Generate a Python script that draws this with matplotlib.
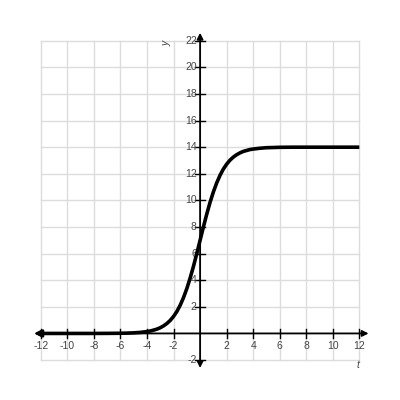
import matplotlib.pyplot as plt

plt.rcParams['font.family'] = ['Liberation Sans', 'DejaVu Sans']

# values
t_vals = [-12, -10, -8, -7, -6, -5.5, -5, -4.5, -4, -3.75, -3.5, -3.25, -3, -2.75,
          -2.5, -2.25, -2, -1.75, -1.5, -1.25, -1, -0.75, -0.5, -0.25, 0, 0.25, 0.5,
          0.75, 1, 1.25, 1.5, 1.75, 2, 2.25, 2.5, 2.75, 3, 3.25, 3.5, 3.75, 4, 4.5,
          5, 6, 7, 8, 10, 12]
y_vals = [0.0, 0.0, 0.0, 0.005, 0.014, 0.025, 0.044, 0.079, 0.14, 0.185, 0.25, 0.325,
          0.43, 0.57, 0.75, 0.98, 1.28, 1.65, 2.12, 2.69, 3.37, 4.16, 5.04, 6.0, 7.0,
          8.0, 8.96, 9.85, 10.63, 11.31, 11.88, 12.35, 12.72, 13.02, 13.25, 13.43,
          13.57, 13.68, 13.75, 13.82, 13.86, 13.92, 13.96, 13.99, 14.0, 14.0, 14.0, 14.0]

x_ticks = [-12, -10, -8, -6, -4, -2, 2, 4, 6, 8, 10, 12]
y_ticks = [-2, 2, 4, 6, 8, 10, 12, 14, 16, 18, 20, 22]

fig = plt.figure(figsize=(4, 4), dpi=100)
ax = fig.add_axes([0.069, 0.05, 0.879, 0.898])
ax.set_xlim(-13, 13.5)
ax.set_ylim(-3.5, 23.5)
ax.axis('off')

grid_col = '#dcdcdc'
for gx in range(-12, 13, 2):
    ax.plot([gx, gx], [-2, 22], color=grid_col, lw=1, zorder=1)
for gy in range(-2, 23, 2):
    ax.plot([-12, 12], [gy, gy], color=grid_col, lw=1, zorder=1)

# axes with arrows
arrow = dict(arrowstyle='<|-|>', color='black', lw=1.3, mutation_scale=9, shrinkA=0, shrinkB=0)
ax.annotate('', xy=(12.7, 0), xytext=(-12.5, 0), arrowprops=arrow, zorder=3)
ax.annotate('', xy=(0, 22.6), xytext=(0, -2.6), arrowprops=arrow, zorder=3)

lbl_col = '#444444'
for tx in x_ticks:
    ax.plot([tx, tx], [-0.35, 0.35], color='black', lw=1, zorder=3)
    ax.text(tx, -0.55, str(tx), ha='center', va='top', fontsize=7.5, color=lbl_col)
for ty in y_ticks:
    ax.plot([-0.35, 0.35], [ty, ty], color='black', lw=1, zorder=3)
    ax.text(-0.25, ty, str(ty), ha='right', va='center', fontsize=7.5, color=lbl_col)

ax.text(-2.5, 21.8, 'y', rotation=90, ha='center', va='center', fontsize=7.5,
        style='italic', color=lbl_col)
ax.text(11.9, -2.4, 't', ha='center', va='center', fontsize=7.5,
        style='italic', color=lbl_col)

# curve
ax.plot(t_vals, y_vals, color='black', lw=2.6, zorder=4, solid_capstyle='butt')
ax.annotate('', xy=(-12.5, 0), xytext=(-11.8, 0),
            arrowprops=dict(arrowstyle='-|>', color='black', lw=2, mutation_scale=10,
                            shrinkA=0, shrinkB=0), zorder=4)

fig.savefig('out.png', dpi=100)
